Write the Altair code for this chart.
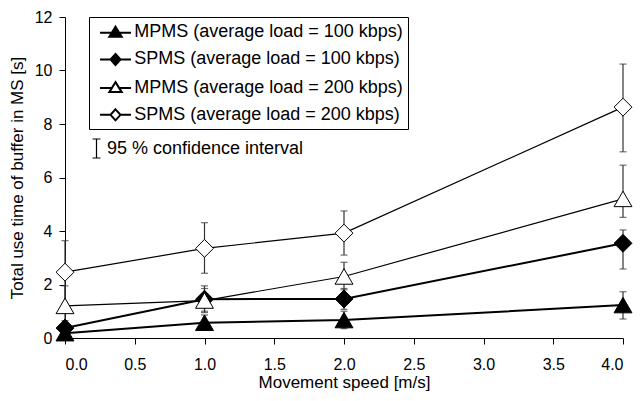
import altair as alt
import pandas as pd

# ---------------- data ----------------
speeds = [0.0, 1.0, 2.0, 4.0]
series_names = [
    "MPMS (average load = 100 kbps)",
    "SPMS (average load = 100 kbps)",
    "MPMS (average load = 200 kbps)",
    "SPMS (average load = 200 kbps)",
]
mpms_100 = [0.18, 0.57, 0.67, 1.23]
mpms_100_lo = [0.0, 0.30, 0.35, 0.71]
mpms_100_hi = [0.40, 0.86, 1.00, 1.73]
spms_100 = [0.37, 1.45, 1.46, 3.54]
spms_100_lo = [0.10, 0.95, 1.07, 2.58]
spms_100_hi = [0.65, 1.95, 1.85, 4.04]
mpms_200 = [1.20, 1.40, 2.30, 5.20]
mpms_200_lo = [0.45, 1.00, 1.80, 4.51]
mpms_200_hi = [1.95, 1.85, 2.83, 6.46]
spms_200 = [2.46, 3.35, 3.92, 8.63]
spms_200_lo = [1.28, 2.42, 3.10, 6.96]
spms_200_hi = [3.64, 4.31, 4.75, 10.24]
ci_label = "95 % confidence interval"
x_ticks = [0.0, 0.5, 1.0, 1.5, 2.0, 2.5, 3.0, 3.5, 4.0]
y_ticks = [0, 2, 4, 6, 8, 10, 12]

means = [mpms_100, spms_100, mpms_200, spms_200]
lows = [mpms_100_lo, spms_100_lo, mpms_200_lo, spms_200_lo]
highs = [mpms_100_hi, spms_100_hi, mpms_200_hi, spms_200_hi]

rows = []
for name, m, lo, hi in zip(series_names, means, lows, highs):
    for s, v, a, b in zip(speeds, m, lo, hi):
        rows.append({"series": name, "speed": s, "value": v, "lo": a, "hi": b})
df = pd.DataFrame(rows)

# ---------------- styles ----------------
FONT = "Liberation Sans"
marker_shapes = ["triangle-up", "diamond", "triangle-up", "diamond"]
marker_fills = ["black", "black", "white", "white"]
marker_strokes = ["black", "black", "black", "black"]
line_widths = [2, 2, 1.2, 1.2]
# legend glyphs: line + marker, drawn shifted right inside the symbol slot
tri_path = ("M-0.42,0.05L0.76,0.05M1.5,0.05L2.68,0.05"
            "M1.13,-0.55L1.75,0.45L0.51,0.45Z")
dia_path = ("M-0.42,0L0.63,0M1.63,0L2.68,0"
            "M1.13,-0.55L1.63,0L1.13,0.55L0.63,0Z")
legend_paths = [tri_path, dia_path, tri_path, dia_path]
ibeam_path = "M-0.42,-1L0.42,-1M0,-1L0,1M-0.42,1L0.42,1"

x_scale = alt.Scale(domain=[0, 4], nice=False, zero=False)
y_scale = alt.Scale(domain=[0, 12], nice=False)
x_axis = alt.Axis(values=x_ticks, format=".1f", title="Movement speed [m/s]",
                  labelPadding=12, titlePadding=2)
y_axis = alt.Axis(values=y_ticks, format="d", title="Total use time of buffer in MS [s]",
                  labelPadding=7, titlePadding=7.5)


def X():
    return alt.X("speed:Q", scale=x_scale, axis=x_axis)


def Y(field):
    return alt.Y(f"{field}:Q", scale=y_scale, axis=y_axis)


base = alt.Chart(df)

layers = []
# lines
for i, name in enumerate(series_names):
    layers.append(
        base.transform_filter(alt.datum.series == name)
        .mark_line(color="black", strokeWidth=line_widths[i])
        .encode(x=X(), y=Y("value"))
    )
# error bars
layers.append(base.mark_rule(color="#333333", strokeWidth=1.2).encode(x=X(), y=Y("lo"), y2="hi:Q"))
layers.append(base.mark_tick(orient="horizontal", size=7, thickness=1.2, color="#333333")
              .encode(x=X(), y=Y("lo")))
layers.append(base.mark_tick(orient="horizontal", size=7, thickness=1.2, color="#333333")
              .encode(x=X(), y=Y("hi")))
# markers
for i, name in enumerate(series_names):
    layers.append(
        base.transform_filter(alt.datum.series == name)
        .mark_point(shape=marker_shapes[i], fill=marker_fills[i], stroke="black",
                    strokeWidth=1, size=320, opacity=1, fillOpacity=1)
        .encode(x=X(), y=Y("value"))
    )

main_legend = alt.Legend(
    title=None, orient="none", legendX=24, legendY=0, direction="vertical",
    padding=4.2, rowPadding=7.2, symbolSize=400, symbolOffset=0, labelOffset=19,
    labelFontSize=18, labelFont=FONT, labelColor="black", labelLimit=600,
    strokeColor="black", fillColor="white",
)
legend_layer = (
    base.transform_filter("false")
    .mark_point(opacity=1, fillOpacity=1, strokeOpacity=1)
    .encode(
        shape=alt.Shape("series:N", scale=alt.Scale(domain=series_names, range=legend_paths),
                        legend=main_legend),
        fill=alt.Fill("series:N", scale=alt.Scale(domain=series_names, range=marker_fills),
                      legend=main_legend),
        stroke=alt.Stroke("series:N", scale=alt.Scale(domain=series_names, range=marker_strokes),
                          legend=main_legend),
        strokeWidth=alt.StrokeWidth("series:N", scale=alt.Scale(domain=series_names, range=line_widths),
                                    legend=main_legend),
    )
)
layers.append(legend_layer)

ci_legend = alt.Legend(
    title=None, orient="none", legendX=21, legendY=121, direction="vertical",
    padding=0, symbolSize=361, symbolType=ibeam_path, symbolOffset=0, labelOffset=0,
    labelFontSize=18, labelFont=FONT, labelColor="black", labelLimit=600,
    symbolStrokeColor="black", symbolStrokeWidth=1.2, symbolFillColor="transparent",
)
ci_layer = (
    base.transform_filter("false")
    .mark_point(opacity=1, strokeWidth=1.2)
    .encode(strokeDash=alt.StrokeDash("ci:N", scale=alt.Scale(domain=[ci_label], range=[[1, 0]]),
                                      legend=ci_legend))
)
layers.append(ci_layer)

chart = (
    alt.layer(*layers)
    .properties(width=558, height=321,
                autosize=alt.AutoSizeParams(type="none"),
                padding={"left": 57, "top": 9, "right": 12, "bottom": 55},
                background="white")
    .resolve_scale(strokeDash="independent")
    .configure_view(stroke=None)
    .configure_axis(
        grid=False, labelFont=FONT, titleFont=FONT, labelFontSize=16, titleFontSize=17,
        titleFontWeight="normal", labelColor="black", titleColor="black",
        domainColor="black", tickColor="black", tickSize=6, domainWidth=1, tickWidth=1,
    )
)

chart.save("out.html", embed_options={"renderer": "svg", "actions": False})
